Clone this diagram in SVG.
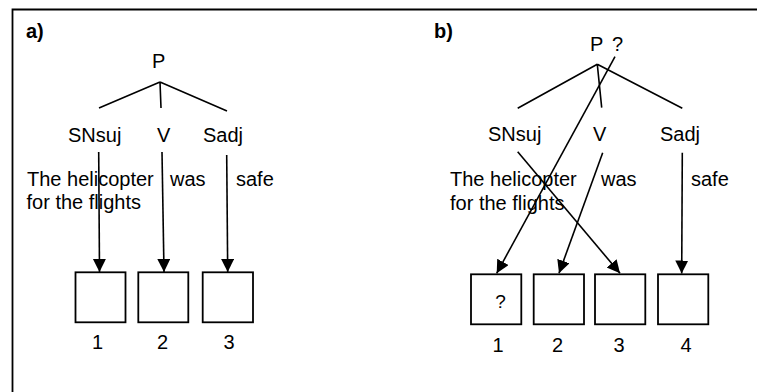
<svg xmlns="http://www.w3.org/2000/svg" width="757" height="392" viewBox="0 0 757 392">
<defs>
<style>
text{font-family:"Liberation Sans",Arial,sans-serif;font-size:20px;fill:#000}
.lbl{font-weight:bold;font-size:20px}
.box{fill:#fff;stroke:#000;stroke-width:1.8}
.ln{stroke:#000;stroke-width:1.6;fill:none}
.arr{stroke:#000;stroke-width:1.6;fill:none;marker-end:url(#ah)}
.mid{text-anchor:middle}
.q{font-size:19px}
</style>
<marker id="ah" markerUnits="userSpaceOnUse" markerWidth="14" markerHeight="14" refX="13" refY="6.5" orient="auto">
<path d="M0,0 L13,6.5 L0,13 z" fill="#000"/>
</marker>
</defs>
<rect width="757" height="392" fill="#fff"/>
<path d="M12.5,392 V9.5 H757" fill="none" stroke="#000" stroke-width="1.8"/>

<g id="panel-a">
<text class="lbl" x="26" y="38">a)</text>
<g id="a-P"><text x="152" y="68">P</text></g>
<g id="a-SNsuj"><text x="68" y="142">SNsuj</text></g>
<g id="a-V"><text x="157" y="142">V</text></g>
<g id="a-Sadj"><text x="203" y="142">Sadj</text></g>
<g id="a-w1"><text x="27" y="186">The helicopter</text><text x="26.5" y="209">for the flights</text></g>
<g id="a-w2"><text x="170" y="186">was</text></g>
<g id="a-w3"><text x="236" y="186">safe</text></g>
<g id="a-box1"><rect class="box" x="75.5" y="272.3" width="50" height="50"/><text class="mid" x="97.5" y="349">1</text></g>
<g id="a-box2"><rect class="box" x="138.3" y="272.3" width="50" height="50"/><text class="mid" x="162.5" y="349">2</text></g>
<g id="a-box3"><rect class="box" x="202.7" y="272.3" width="50.3" height="50"/><text class="mid" x="229" y="349">3</text></g>
</g>

<g id="panel-b">
<text class="lbl" x="434" y="38">b)</text>
<g id="b-P"><text x="590" y="51">P</text><text x="612" y="51">?</text></g>
<g id="b-SNsuj"><text x="488" y="141">SNsuj</text></g>
<g id="b-V"><text x="593" y="141">V</text></g>
<g id="b-Sadj"><text x="660" y="141">Sadj</text></g>
<g id="b-w1"><text x="450" y="186">The helicopter</text><text x="450" y="210">for the flights</text></g>
<g id="b-w2"><text x="601" y="186">was</text></g>
<g id="b-w3"><text x="691" y="186">safe</text></g>
<g id="b-box1"><rect class="box" x="471" y="274.3" width="50.3" height="50"/><text class="mid q" x="500.5" y="308">?</text><text class="mid" x="498" y="352">1</text></g>
<g id="b-box2"><rect class="box" x="533.7" y="274.3" width="50.3" height="50"/><text class="mid" x="557.5" y="352">2</text></g>
<g id="b-box3"><rect class="box" x="595" y="274.3" width="50.3" height="50"/><text class="mid" x="619" y="352">3</text></g>
<g id="b-box4"><rect class="box" x="658" y="274.3" width="50.3" height="50"/><text class="mid" x="686" y="352">4</text></g>
</g>

<g id="connectors">
<path class="ln" d="M160,82 L99,108 M160,82 L161,108 M160,82 L227,111"/>
<path class="arr" d="M98.7,152 L99.5,272"/>
<path class="arr" d="M162,152 L164,272"/>
<path class="arr" d="M226.7,155 L227.7,272"/>
<path class="ln" d="M597.3,64.3 L517.7,108.3 M597.3,64.3 L601.7,107.7 M597.3,64.3 L682.3,108.3"/>
<path class="arr" d="M615,56.7 L496.7,273.3"/>
<path class="arr" d="M602.7,152.7 L559,273.3"/>
<path class="arr" d="M517.7,151.7 L620,273.3"/>
<path class="arr" d="M682.3,152.7 L681.7,273.5"/>
</g>
</svg>
